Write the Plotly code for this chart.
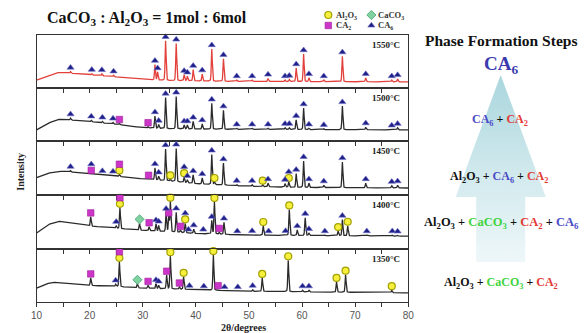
import numpy as np
import plotly.graph_objects as go

W, H = 588, 333

# ------------------------------------------------------------------ data
temps = ["1550°C", "1500°C", "1450°C", "1400°C", "1350°C"]

# baseline anchors (2θ, relative intensity 0-100 within each panel)
base_x_1550 = [10, 12, 14, 16, 20, 25, 30, 35, 45, 80]
base_y_1550 = [15, 22, 29, 28, 25, 21, 16, 14, 12.5, 11.5]
base_x_1500 = [10, 12, 14, 17, 20, 25, 30, 35, 45, 80]
base_y_1500 = [21, 33, 41, 39, 36.5, 31.5, 25, 23, 22, 21]
base_x_1450 = [10, 12, 14, 17, 20, 25, 30, 35, 40, 50, 60, 80]
base_y_1450 = [32, 40, 44, 42, 39, 35, 30, 26, 21, 16, 14, 13]
base_x_1400 = [10, 12, 14, 17, 20, 25, 30, 35, 40, 50, 80]
base_y_1400 = [29, 44, 51, 47, 42, 37.5, 34, 31, 28, 25, 23]
base_x_1350 = [10, 11.5, 13, 16, 20, 25, 30, 40, 50, 60, 80]
base_y_1350 = [26, 33, 37, 34, 31, 29, 26, 23, 20, 19, 17]

# peaks: position (2θ), peak-top level, phase marks (lowest first)
# A = Al2O3, C = CaCO3, 2 = CA2, 6 = CA6
peak_pos_1550 = [16.4, 20.4, 22.3, 24.5, 32.3, 32.8, 34.3, 36.3, 37.8, 38.4, 39.5, 41.2, 43.0, 45.2,
                 47.7, 50.6, 53.6, 56.8, 57.6, 58.9, 60.3, 61.3, 64.1, 67.6, 72.0, 76.9, 78.0]
peak_top_1550 = [31, 27, 26.5, 24, 44, 30, 89, 84, 25, 22, 34.5, 26, 73.5, 55,
                 15, 15, 18, 15, 16, 37.5, 64, 19, 15, 60, 19, 15, 17]
peak_ph_1550 = ["6"] * 27

peak_pos_1500 = [16.4, 20.3, 22.4, 24.4, 25.6, 31.0, 32.3, 33.0, 34.3, 36.3, 37.8, 38.4, 39.5, 41.2,
                 43.0, 45.2, 47.7, 50.6, 53.6, 56.8, 57.6, 58.9, 60.3, 61.3, 64.1, 67.6, 72.0,
                 76.9, 78.0]
peak_top_1500 = [43, 39, 37, 35, 33, 27, 47, 31, 82, 84, 30, 30, 37, 32,
                 71, 58, 24, 24, 24, 25, 25, 40, 62, 24, 23, 66, 26,
                 22, 25]
peak_ph_1500 = ["6", "6", "6", "6", "2", "2", "6", "6", "6", "6", "6", "6", "6", "6",
                "6", "6", "6", "6", "6", "6", "6", "6", "6", "6", "6", "6", "6",
                "6", "6"]

peak_pos_1450 = [16.4, 20.3, 22.4, 24.4, 25.6, 31.1, 32.3, 33.0, 34.3, 35.2, 36.3, 37.8, 38.4,
                 39.5, 41.2, 43.0, 43.5, 45.2, 47.7, 50.6, 52.6, 53.6, 56.8, 57.5, 58.9, 60.3,
                 61.3, 64.1, 67.6, 72.0, 76.9, 78.0]
peak_top_1450 = [45, 38, 37, 36, 38, 29, 50, 34.5, 85, 29, 86, 33, 28,
                 37, 31.5, 75, 24, 59, 19, 19, 19, 22, 21, 24, 39.5, 63,
                 22, 18, 61, 22, 17, 18]
peak_ph_1450 = ["6", "26", "6", "6", "A2", "2", "6", "6", "6", "A", "6", "A6", "6",
                "6", "6", "6", "A", "6", "6", "6", "A", "6", "6", "A6", "6", "6",
                "6", "6", "6", "6", "6", "6"]

peak_pos_1400 = [20.2, 25.0, 25.7, 29.4, 31.2, 32.5, 33.0, 34.4, 34.9, 35.2, 36.3, 37.1, 38.0,
                 38.6, 39.6, 41.4, 43.0, 43.5, 44.4, 45.3, 47.8, 50.6, 52.7, 53.7, 56.9, 57.6,
                 59.1, 60.6, 61.3, 64.3, 66.8, 67.6, 68.6, 72.2, 77.0, 78.0]
peak_top_1400 = [59, 42.5, 76, 47, 40.6, 45.7, 43, 67, 59, 87.5, 67.5, 34, 47,
                 28, 36, 28, 52, 87, 30, 48.7, 25, 25.5, 42, 25, 25.5, 73,
                 34.5, 57.5, 29, 25, 32.6, 54, 42.5, 25, 25, 24.5]
peak_ph_1400 = ["2", "6", "A2", "C", "2", "6", "6", "6", "2", "A", "6", "2", "A6",
                "6", "6", "6", "6", "A", "2", "6", "6", "6", "A", "6", "6", "A",
                "6", "6", "6", "6", "A", "6", "A", "6", "6", "6"]

peak_pos_1350 = [20.2, 24.9, 25.6, 29.0, 31.0, 32.5, 33.0, 34.5, 35.2, 36.9, 37.7, 38.8, 41.5,
                 43.3, 44.2, 45.4, 47.9, 50.7, 52.5, 57.4, 60.1, 61.3, 66.5, 68.2, 76.9]
peak_top_1350 = [45, 33, 75, 34, 31, 34, 31, 50, 85.7, 28, 47, 23, 22,
                 87.6, 23, 20.5, 20.5, 23, 45, 78, 22, 22, 37.5, 51, 22]
peak_ph_1350 = ["2", "6", "A2", "C", "2", "6", "6", "2", "A", "2", "A", "6", "6",
                "A", "2", "6", "6", "6", "A", "A", "6", "6", "A", "A", "A"]

xaxis_ticks = [10, 20, 30, 40, 50, 60, 70, 80]

panels = [
    (base_x_1550, base_y_1550, peak_pos_1550, peak_top_1550, peak_ph_1550),
    (base_x_1500, base_y_1500, peak_pos_1500, peak_top_1500, peak_ph_1500),
    (base_x_1450, base_y_1450, peak_pos_1450, peak_top_1450, peak_ph_1450),
    (base_x_1400, base_y_1400, peak_pos_1400, peak_top_1400, peak_ph_1400),
    (base_x_1350, base_y_1350, peak_pos_1350, peak_top_1350, peak_ph_1350),
]

# ------------------------------------------------------------------ layout constants
X0, X1 = 31.2, 410.6
panel_top = [35, 88, 141, 195, 248.5]
panel_bot = [88, 141, 195, 248.5, 302]
line_cols = ["#e2403a", "#2a2a2a", "#2a2a2a", "#2a2a2a", "#2a2a2a"]

marker_style = {
    "A": dict(symbol="circle", size=7, color="#f6f03c", line=dict(color="#a3a000", width=1.2)),
    "C": dict(symbol="diamond", size=7, color="#7fd3a0", line=dict(color="#3f9f6f", width=0.8)),
    "2": dict(symbol="square", size=6.5, color="#cc36c8", line=dict(color="#a0209c", width=0.6)),
    "6": dict(symbol="triangle-up", size=6.3, color="#1f1f88", line=dict(color="#7070c8", width=0.6)),
}

SERIF = "Liberation Serif, Times New Roman, Times, serif"
SANS = "Liberation Sans, Arial, sans-serif"

fig = go.Figure()

x = np.arange(10, 80.0001, 0.02)


def profile(d):
    return 0.75 * np.exp(-0.5 * (d / 0.09) ** 2) + 0.25 / (1 + (d / 0.1) ** 2)


for i, (bx, by, pp, pt, ph) in enumerate(panels):
    k = i + 1
    base = np.interp(x, bx, by)
    y = base.copy()
    for p, t in zip(pp, pt):
        amp = t - float(np.interp(p, bx, by))
        y = y + max(amp, 0) * profile(x - p)
    fig.add_trace(go.Scatter(x=x, y=y, mode="lines", xaxis=f"x{k}", yaxis=f"y{k}",
                             line=dict(color=line_cols[i], width=1.3), hoverinfo="skip",
                             showlegend=False))
    for code, st in marker_style.items():
        mx, my = [], []
        for p, t, s in zip(pp, pt, ph):
            for lev, c in enumerate(s):
                if c == code:
                    mx.append(p)
                    my.append(t + 7.5 + 11.5 * lev)
        if mx:
            fig.add_trace(go.Scatter(x=mx, y=my, mode="markers", xaxis=f"x{k}", yaxis=f"y{k}",
                                     marker=st, cliponaxis=False, showlegend=False,
                                     hoverinfo="skip"))

layout = dict(
    width=W, height=H, margin=dict(l=0, r=0, t=0, b=0),
    paper_bgcolor="white", plot_bgcolor="rgba(0,0,0,0)", showlegend=False,
)
for i in range(5):
    k = i + 1
    layout[f"xaxis{k}"] = dict(
        domain=[X0 / W, X1 / W], range=[10, 80], anchor=f"y{k}",
        showline=True, mirror=True, linecolor="#333", linewidth=1.3,
        ticks="outside", ticklen=4, tickwidth=1, tickcolor="#333",
        tickvals=xaxis_ticks, ticktext=[str(v) for v in xaxis_ticks],
        minor=dict(dtick=5, tick0=10, ticks="outside", ticklen=4, tickcolor="#333", showgrid=False),
        showticklabels=(k == 5), tickfont=dict(family=SANS, size=10, color="#555"),
        showgrid=False, zeroline=False, fixedrange=True,
    )
    layout[f"yaxis{k}"] = dict(
        domain=[1 - panel_bot[i] / H, 1 - panel_top[i] / H], range=[0, 100], anchor=f"x{k}",
        showline=True, mirror=True, linecolor="#333", linewidth=1.3,
        showticklabels=False, ticks="", showgrid=False, zeroline=False, fixedrange=True,
    )
layout["xaxis6"] = dict(domain=[0, 1], range=[0, W], anchor="y6", visible=False, fixedrange=True)
layout["yaxis6"] = dict(domain=[0, 1], range=[H, 0], anchor="x6", visible=False, fixedrange=True)
fig.update_layout(**layout)

# ------------------------------------------------------------------ arrow (decoration)
ax = [505, 551, 530, 530, 480, 480, 459, 505]
ay = [75, 197, 197, 262, 262, 197, 197, 75]
fig.add_trace(go.Scatter(
    x=ax, y=ay, xaxis="x6", yaxis="y6", mode="lines", fill="toself",
    line=dict(width=0, color="rgba(0,0,0,0)"),
    fillgradient=dict(type="vertical", start=75, stop=262,
                      colorscale=[[0, "#a9d6dd"], [0.55, "#d3eaee"], [1, "#eef7f9"]]),
    hoverinfo="skip", showlegend=False))

# legend glyphs
leg = [("A", 329, 15), ("C", 373, 15), ("2", 329, 25.5), ("6", 373, 25.5)]
for code, lx, ly in leg:
    fig.add_trace(go.Scatter(x=[lx], y=[ly], xaxis="x6", yaxis="y6", mode="markers",
                             marker=marker_style[code], hoverinfo="skip", showlegend=False))

ann = []


def A(text, x, y, size, color="#111", xa="center", angle=0, family=SERIF):
    ann.append(dict(text=text, x=x, y=y, xref="x6", yref="y6", xanchor=xa, yanchor="middle",
                    showarrow=False, textangle=angle,
                    font=dict(family=family, size=size, color=color)))


A("<b>CaCO<sub>3</sub> : Al<sub>2</sub>O<sub>3</sub> = 1mol : 6mol</b>", 144, 18, 16)
A("<b>Al<sub>2</sub>O<sub>3</sub></b>", 335, 15, 8.5, "#333", "left")
A("<b>CaCO<sub>3</sub></b>", 378, 15, 8.5, "#333", "left")
A("<b>CA<sub>2</sub></b>", 335, 25.5, 8.5, "#333", "left")
A("<b>CA<sub>6</sub></b>", 378, 25.5, 8.5, "#333", "left")
for i, t in enumerate(temps):
    A(f"<b>{t}</b>", 404, panel_top[i] + 10, 9, "#222", "right")
A("<b>Intensity</b>", 14, 172, 10, "#222", "center", -90)
A("<b>2θ/degrees</b>", 242, 327, 10, "#222")

BL = "#4b4bc6"
RD = "#e33a36"
GR = "#3fd43f"
A("<b>Phase Formation Steps</b>", 505, 40, 15.5, "#111")
A("<b>CA<sub>6</sub></b>", 505, 65, 19, "#3a3aae")
A(f"<b><span style='color:{BL}'>CA<sub>6</sub></span> + <span style='color:{RD}'>CA<sub>2</sub></span></b>",
  504, 120, 12)
A(f"<b>Al<sub>2</sub>O<sub>3</sub> + <span style='color:{BL}'>CA<sub>6</sub></span> + "
  f"<span style='color:{RD}'>CA<sub>2</sub></span></b>", 503, 177, 12)
A(f"<b>Al<sub>2</sub>O<sub>3</sub> + <span style='color:{GR}'>CaCO<sub>3</sub></span> + "
  f"<span style='color:{RD}'>CA<sub>2</sub></span> + <span style='color:{BL}'>CA<sub>6</sub></span></b>",
  506, 223, 12.5)
A(f"<b>Al<sub>2</sub>O<sub>3</sub> + <span style='color:{GR}'>CaCO<sub>3</sub></span> + "
  f"<span style='color:{RD}'>CA<sub>2</sub></span></b>", 505, 283, 12)

fig.update_layout(annotations=ann)
fig.write_html("out.html", config={"displayModeBar": False},
               post_script="document.body.style.margin='0';")
